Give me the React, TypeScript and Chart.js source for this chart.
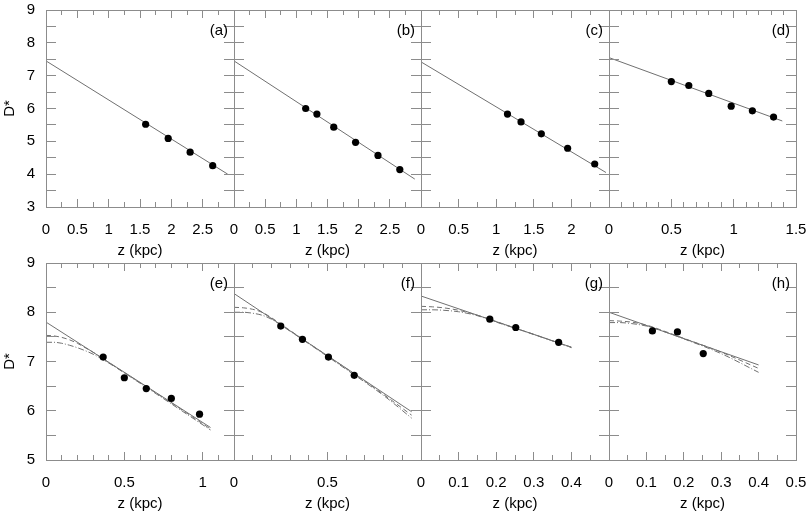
import { useEffect, useRef } from "react";
import Chart from "chart.js/auto";

const FONT = "Arial, 'Liberation Sans', Helvetica, sans-serif";
const LINE = "#707070";
const FRAME = "#8c8c8c";

// (a)
const aFitZ = [0, 2.9];
const aFitD = [7.45, 4.0];
const aObsZ = [1.59, 1.95, 2.3, 2.66];
const aObsD = [5.52, 5.09, 4.67, 4.26];
// (b)
const bFitZ = [0, 2.9];
const bFitD = [7.45, 3.85];
const bObsZ = [1.15, 1.33, 1.6, 1.95, 2.31, 2.66];
const bObsD = [6.0, 5.83, 5.43, 4.97, 4.57, 4.14];
// (c)
const cFitZ = [0, 2.46];
const cFitD = [7.42, 4.05];
const cObsZ = [1.15, 1.33, 1.6, 1.95, 2.31];
const cObsD = [5.83, 5.59, 5.23, 4.79, 4.31];
// (d)
const dFitZ = [0, 1.39];
const dFitD = [7.55, 5.62];
const dObsZ = [0.5, 0.64, 0.8, 0.98, 1.15, 1.32];
const dObsD = [6.82, 6.7, 6.46, 6.07, 5.93, 5.74];
// (e)
const eFitZ = [0, 1.05];
const eFitD = [7.8, 5.66];
const eCurveZ = [0, 0.05, 0.1, 0.15, 0.2, 0.25, 0.3, 0.4, 0.6, 0.8, 1.05];
const eDashD = [7.53, 7.52, 7.49, 7.44, 7.37, 7.28, 7.19, 6.98, 6.57, 6.16, 5.63];
const eDotD = [7.39, 7.39, 7.37, 7.33, 7.28, 7.22, 7.15, 6.97, 6.56, 6.14, 5.61];
const eObsZ = [0.365, 0.5, 0.64, 0.8, 0.98];
const eObsD = [7.09, 6.67, 6.45, 6.25, 5.93];
// (f)
const fFitZ = [0, 0.95];
const fFitD = [8.38, 5.98];
const fCurveZ = [0, 0.05, 0.1, 0.15, 0.2, 0.25, 0.4, 0.6, 0.8, 0.95];
const fDashD = [8.1, 8.09, 8.06, 8.0, 7.89, 7.76, 7.37, 6.86, 6.33, 5.91];
const fDotD = [8.0, 8.0, 7.98, 7.94, 7.86, 7.74, 7.36, 6.84, 6.31, 5.85];
const fObsZ = [0.25, 0.366, 0.505, 0.643];
const fObsD = [7.72, 7.45, 7.09, 6.72];
// (g)
const gFitZ = [0, 0.4];
const gFitD = [8.33, 7.29];
const gCurveZ = [0, 0.03, 0.06, 0.1, 0.15, 0.2, 0.3, 0.4];
const gDashD = [8.12, 8.11, 8.09, 8.04, 7.94, 7.81, 7.55, 7.29];
const gDotD = [8.05, 8.05, 8.04, 8.01, 7.93, 7.8, 7.55, 7.28];
const gObsZ = [0.183, 0.252, 0.366];
const gObsD = [7.86, 7.69, 7.39];
// (h)
const hFitZ = [0, 0.4];
const hFitD = [8.0, 6.93];
const hCurveZ = [0, 0.03, 0.06, 0.1, 0.15, 0.2, 0.3, 0.4];
const hDashD = [7.83, 7.82, 7.8, 7.74, 7.61, 7.47, 7.19, 6.86];
const hDotD = [7.79, 7.79, 7.77, 7.72, 7.6, 7.46, 7.16, 6.78];
const hObsZ = [0.116, 0.183, 0.252];
const hObsD = [7.62, 7.6, 7.16];

const topRangeD = [3, 9];
const bottomRangeD = [5, 9];

const PANEL_H = 197;

type PanelSpec = {
  label: string;
  fitZ: number[];
  fitD: number[];
  obsZ: number[];
  obsD: number[];
  curveZ?: number[];
  dashD?: number[];
  dotD?: number[];
  xMax: number;
  xStep: number;
  xMinor: number;
  yRange: number[];
  showY: boolean;
  lastLabel: boolean;
  left: number;
  top: number;
  width: number;
};

const panels: PanelSpec[] = [
  { label: "(a)", fitZ: aFitZ, fitD: aFitD, obsZ: aObsZ, obsD: aObsD, xMax: 3, xStep: 0.5, xMinor: 0.25, yRange: topRangeD, showY: true, lastLabel: false, left: 46, top: 10, width: 188 },
  { label: "(b)", fitZ: bFitZ, fitD: bFitD, obsZ: bObsZ, obsD: bObsD, xMax: 3, xStep: 0.5, xMinor: 0.25, yRange: topRangeD, showY: false, lastLabel: false, left: 234, top: 10, width: 187 },
  { label: "(c)", fitZ: cFitZ, fitD: cFitD, obsZ: cObsZ, obsD: cObsD, xMax: 2.5, xStep: 0.5, xMinor: 0.25, yRange: topRangeD, showY: false, lastLabel: false, left: 421, top: 10, width: 188 },
  { label: "(d)", fitZ: dFitZ, fitD: dFitD, obsZ: dObsZ, obsD: dObsD, xMax: 1.5, xStep: 0.5, xMinor: 0.1, yRange: topRangeD, showY: false, lastLabel: true, left: 609, top: 10, width: 187 },
  { label: "(e)", fitZ: eFitZ, fitD: eFitD, obsZ: eObsZ, obsD: eObsD, curveZ: eCurveZ, dashD: eDashD, dotD: eDotD, xMax: 1.2, xStep: 0.5, xMinor: 0.1, yRange: bottomRangeD, showY: true, lastLabel: false, left: 46, top: 263, width: 188 },
  { label: "(f)", fitZ: fFitZ, fitD: fFitD, obsZ: fObsZ, obsD: fObsD, curveZ: fCurveZ, dashD: fDashD, dotD: fDotD, xMax: 1, xStep: 0.5, xMinor: 0.1, yRange: bottomRangeD, showY: false, lastLabel: false, left: 234, top: 263, width: 187 },
  { label: "(g)", fitZ: gFitZ, fitD: gFitD, obsZ: gObsZ, obsD: gObsD, curveZ: gCurveZ, dashD: gDashD, dotD: gDotD, xMax: 0.5, xStep: 0.1, xMinor: 0.05, yRange: bottomRangeD, showY: false, lastLabel: false, left: 421, top: 263, width: 188 },
  { label: "(h)", fitZ: hFitZ, fitD: hFitD, obsZ: hObsZ, obsD: hObsD, curveZ: hCurveZ, dashD: hDashD, dotD: hDotD, xMax: 0.5, xStep: 0.1, xMinor: 0.05, yRange: bottomRangeD, showY: false, lastLabel: true, left: 609, top: 263, width: 187 },
];

// box, inward ticks on all four sides, and the panel letter
const framePlugin = {
  id: "frame",
  afterDatasetsDraw(chart: any, _args: any, opts: any) {
    const { ctx } = chart;
    const { left, right, top, bottom } = chart.chartArea;
    const xs = chart.scales.x;
    const ys = chart.scales.y;
    const snap = (v: number) => Math.floor(v) + 0.5;
    ctx.save();
    ctx.strokeStyle = FRAME;
    ctx.lineWidth = 1;
    ctx.beginPath();
    const nX = Math.round((xs.max - xs.min) / opts.xMinor);
    for (let i = 1; i < nX; i++) {
      const v = xs.min + i * opts.xMinor;
      const r = v / opts.xStep;
      const len = Math.abs(r - Math.round(r)) < 1e-6 ? 8 : 5;
      const px = snap(xs.getPixelForValue(v));
      ctx.moveTo(px, bottom);
      ctx.lineTo(px, bottom - len);
      ctx.moveTo(px, top);
      ctx.lineTo(px, top + len);
    }
    const nY = Math.round((ys.max - ys.min) / opts.yMinor);
    for (let i = 1; i < nY; i++) {
      const py = snap(ys.getPixelForValue(ys.min + i * opts.yMinor));
      ctx.moveTo(left, py);
      ctx.lineTo(left + 10, py);
      ctx.moveTo(right, py);
      ctx.lineTo(right - 10, py);
    }
    ctx.stroke();
    ctx.strokeRect(snap(left), snap(top), snap(right) - snap(left), snap(bottom) - snap(top));
    ctx.fillStyle = "#000";
    ctx.font = `15px ${FONT}`;
    ctx.textAlign = "right";
    ctx.textBaseline = "middle";
    ctx.fillText(opts.label, right - 6, top + 21);
    ctx.restore();
  },
};

const toPoints = (zs: number[], ds: number[]) => zs.map((z, i) => ({ x: z, y: ds[i] }));

function Panel({ p }: { p: PanelSpec }) {
  const canvasRef = useRef<HTMLCanvasElement | null>(null);
  const L = p.showY ? p.left : 14;
  const T = 10;
  const R = 14;
  const B = 56;
  const cw = p.width + L + R;
  const ch = PANEL_H + T + B;

  useEffect(() => {
    if (!canvasRef.current) return;

    const datasets: any[] = [
      {
        data: toPoints(p.obsZ, p.obsD),
        showLine: false,
        pointRadius: 3.6,
        pointBackgroundColor: "#000",
        pointBorderWidth: 0,
      },
      {
        data: toPoints(p.fitZ, p.fitD),
        borderColor: LINE,
        borderWidth: 1,
        pointRadius: 0,
      },
    ];
    if (p.curveZ && p.dashD && p.dotD) {
      datasets.push({
        data: toPoints(p.curveZ, p.dashD),
        borderColor: LINE,
        borderWidth: 1,
        borderDash: [5, 3],
        pointRadius: 0,
        cubicInterpolationMode: "monotone",
      });
      datasets.push({
        data: toPoints(p.curveZ, p.dotD),
        borderColor: LINE,
        borderWidth: 1,
        borderDash: [6, 2, 1, 2],
        pointRadius: 0,
        cubicInterpolationMode: "monotone",
      });
    }

    const font = { family: FONT, size: 15 };

    const chart = new Chart(canvasRef.current, {
      type: "line",
      data: { datasets },
      plugins: [framePlugin],
      options: {
        responsive: false,
        animation: false,
        events: [],
        layout: { autoPadding: false, padding: { left: 0, top: T, right: R, bottom: 0 } },
        plugins: {
          legend: { display: false },
          tooltip: { enabled: false },
          frame: { xStep: p.xStep, xMinor: p.xMinor, yMinor: 0.5, label: p.label },
        } as any,
        scales: {
          x: {
            type: "linear",
            min: 0,
            max: p.xMax,
            grid: { display: false, drawTicks: false },
            border: { display: false },
            ticks: {
              stepSize: p.xStep,
              includeBounds: false,
              autoSkip: false,
              maxRotation: 0,
              padding: 14,
              color: "#000",
              font,
              callback: (v: any) =>
                !p.lastLabel && Math.abs(v - p.xMax) < 1e-9 ? "" : String(+Number(v).toFixed(2)),
            },
            title: {
              display: true,
              text: "z (kpc)",
              color: "#000",
              font,
              padding: { top: 0, bottom: 3 },
            },
            afterFit: (s: any) => {
              s.height = B;
              s.paddingLeft = 0;
              s.paddingRight = 0;
            },
          },
          y: {
            min: p.yRange[0],
            max: p.yRange[1],
            grid: { display: false, drawTicks: false },
            border: { display: false },
            ticks: {
              display: p.showY,
              stepSize: 1,
              padding: 11,
              color: "#000",
              font,
            },
            title: {
              display: p.showY,
              text: "D*",
              color: "#000",
              font,
              padding: { top: 1, bottom: 0 },
            },
            afterFit: (s: any) => {
              s.width = L;
              s.paddingTop = 0;
              s.paddingBottom = 0;
            },
          },
        },
      } as any,
    });

    return () => {
      chart.destroy();
    };
  }, [p, L]);

  return (
    <canvas
      ref={canvasRef}
      width={cw}
      height={ch}
      style={{ position: "absolute", left: p.left - L, top: p.top - T, width: cw, height: ch }}
    />
  );
}

export default function App() {
  return (
    <div
      style={{
        position: "fixed",
        left: 0,
        top: 0,
        width: 808,
        height: 512,
        overflow: "hidden",
        background: "#fff",
      }}
    >
      {panels.map((p) => (
        <Panel key={p.label} p={p} />
      ))}
    </div>
  );
}
